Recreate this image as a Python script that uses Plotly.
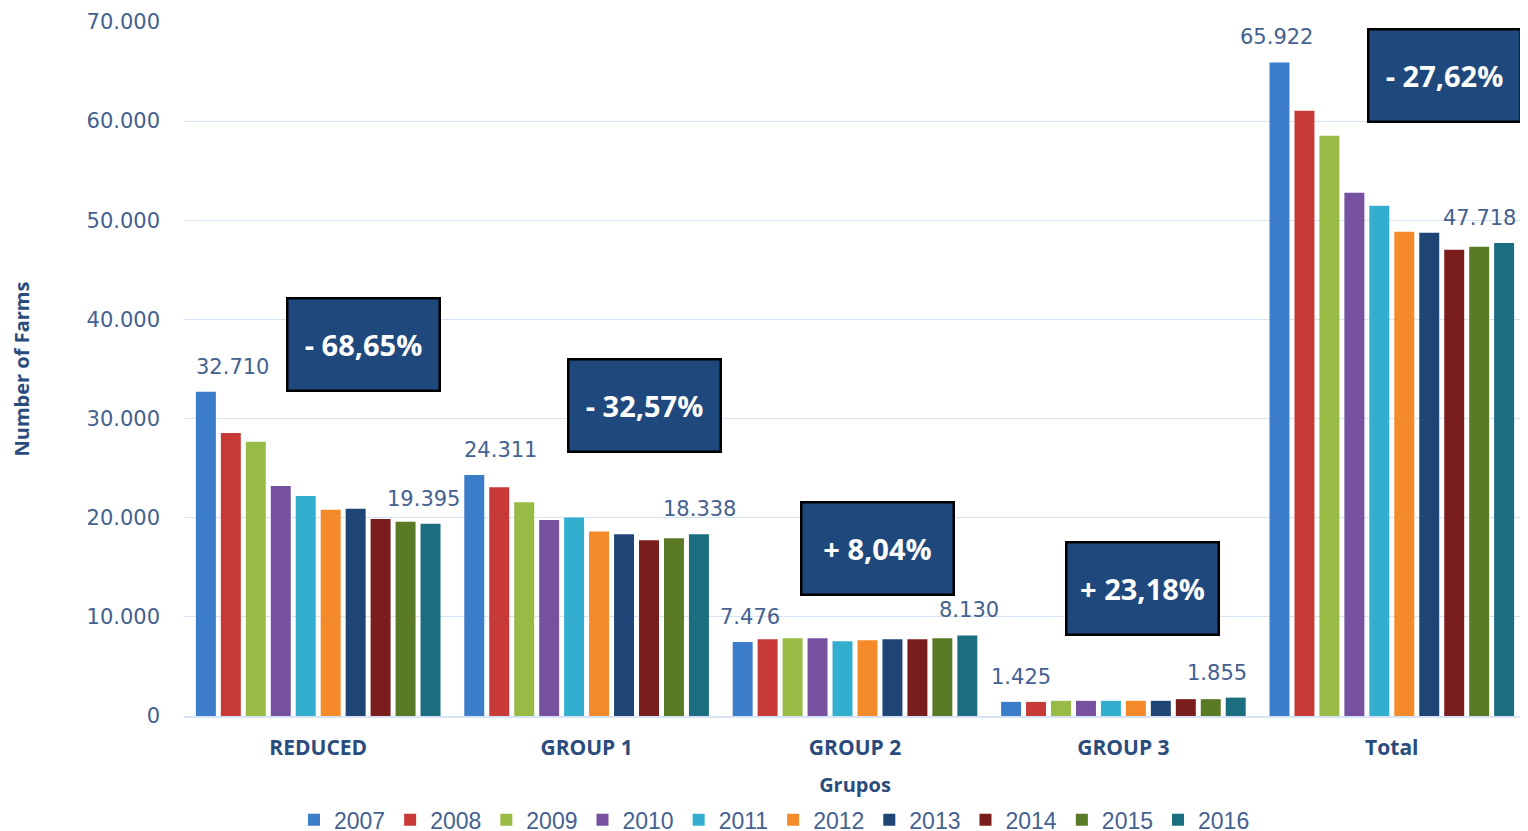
import plotly.graph_objects as go

# Farms per group and year
groups = ["REDUCED", "GROUP 1", "GROUP 2", "GROUP 3", "Total"]
years = ["2007", "2008", "2009", "2010", "2011", "2012", "2013", "2014", "2015", "2016"]

reduced = [32710, 28550, 27650, 23200, 22200, 20800, 20900, 19880, 19600, 19395]
group1 = [24311, 23080, 21560, 19780, 20010, 18600, 18330, 17730, 17930, 18338]
group2 = [7476, 7740, 7840, 7840, 7550, 7650, 7750, 7750, 7850, 8130]
group3 = [1425, 1420, 1530, 1530, 1530, 1530, 1530, 1700, 1700, 1855]
total = [65922, 61050, 58530, 52770, 51460, 48840, 48740, 47020, 47330, 47718]

changes = ["- 68,65%", "- 32,57%", "+ 8,04%", "+ 23,18%", "- 27,62%"]

colors = ["#3B7DC8", "#C83A38", "#98BB45", "#7651A0", "#33AECF",
          "#F58A2A", "#1F4577", "#7A1D1D", "#5B7A26", "#1A6E80"]

series = [reduced, group1, group2, group3, total]

fig = go.Figure()
for i, yr in enumerate(years):
    fig.add_trace(go.Bar(
        x=groups,
        y=[s[i] for s in series],
        name=yr,
        marker=dict(color=colors[i], line=dict(width=0)),
    ))

text_color = "#44618F"
title_color = "#2A4C7D"

# first / last value labels (manually offset like the original)
label_shift = [(-86, 105), (-86, 113), (-105, 114), (-102, 94), (-115, 88)]
for g, s, (sx0, sx1) in zip(groups, series, label_shift):
    for val, sx in ((s[0], sx0), (s[-1], sx1)):
        fig.add_annotation(
            x=g, y=val, xref="x", yref="y",
            text=f"{val:,}".replace(",", "."),
            showarrow=False, xshift=sx, yshift=25,
            font=dict(family="DejaVu Sans", size=21, color=text_color),
        )

# percentage change boxes
box_pos = [(0.1334, 0.536), (0.3435, 0.448), (0.5164, 0.242), (0.7146, 0.1844), (0.9390, 0.9236)]
for txt, (bx, by) in zip(changes, box_pos):
    fig.add_annotation(
        x=bx, y=by, xref="paper", yref="paper",
        text=f"<b>{txt}</b>", showarrow=False,
        width=150, height=90, borderpad=0,
        bgcolor="#1F497D", bordercolor="#000000", borderwidth=2.5,
        font=dict(family="Open Sans", size=29, color="white"),
        xanchor="center", yanchor="middle",
    )

fig.update_layout(
    width=1528, height=831,
    margin=dict(l=176, r=10, t=14, b=123, autoexpand=False),
    paper_bgcolor="white", plot_bgcolor="white",
    separators=",.",
    barmode="group", bargap=0.07, bargroupgap=0.2,
    showlegend=True,
    legend=dict(
        orientation="h", x=0.44, xanchor="center",
        yref="container", y=0.023, yanchor="middle",
        font=dict(family="Liberation Sans Narrow, Liberation Sans", size=23, color=text_color),
        itemwidth=30, traceorder="normal", tracegroupgap=0,
    ),
    font=dict(family="Open Sans", color=text_color),
)

fig.update_yaxes(
    range=[0, 70000], dtick=10000, tickformat=",d",
    showgrid=True, gridcolor="#D6E3F3", gridwidth=1,
    zeroline=False, showline=False, automargin=False,
    tickfont=dict(family="DejaVu Sans", size=21, color=text_color),
    ticklabelstandoff=23,
    title=dict(text="<b>Number of Farms</b>", standoff=56,
               font=dict(family="Open Sans", size=20, color=title_color)),
)
fig.update_xaxes(
    showline=True, linecolor="#D6E3F3", linewidth=1.5, automargin=False,
    tickfont=dict(family="Open Sans", size=21, color=title_color),
    ticklabelstandoff=12,
    tickprefix="<b>", ticksuffix="</b>",
    title=dict(text="<b>Grupos</b>", standoff=20,
               font=dict(family="Open Sans", size=20, color=title_color)),
)

fig.write_html("out.html")
